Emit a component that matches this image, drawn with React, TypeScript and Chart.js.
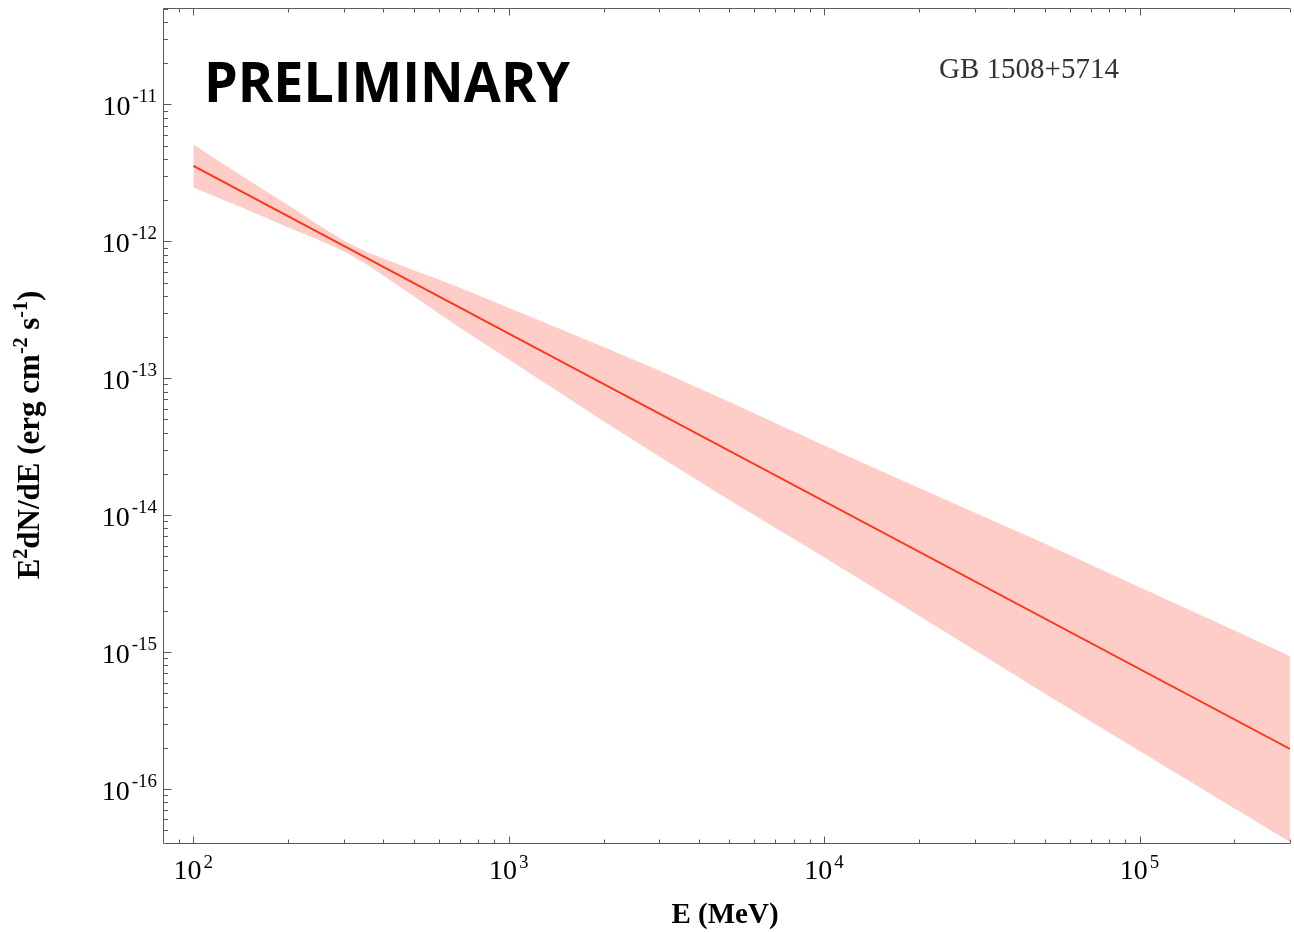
import React, { useEffect, useRef } from 'react';
import { Chart, registerables } from 'chart.js';

Chart.register(...registerables);

// ---- data ----
const bandEnergies = [100, 150, 200, 250, 300, 350, 400, 500, 600, 700, 1000, 2000, 3000, 5000, 1e4, 2e4, 5e4, 1e5, 2e5, 3e5];
const bandUpper = [5.09e-12, 2.78e-12, 1.83e-12, 1.31e-12, 1.01e-12, 8.47e-13, 7.5e-13, 6.15e-13, 5.26e-13, 4.58e-13, 3.27e-13, 1.69e-13, 1.14e-13, 6.72e-14, 3.23e-14, 1.58e-14, 6.2e-15, 2.98e-15, 1.44e-15, 9.35e-16];
const bandLower = [2.47e-12, 1.68e-12, 1.26e-12, 1.02e-12, 8.43e-13, 6.92e-13, 5.63e-13, 3.97e-13, 2.97e-13, 2.34e-13, 1.37e-13, 4.86e-14, 2.68e-14, 1.29e-14, 4.92e-15, 1.84e-15, 4.98e-16, 1.9e-16, 7.21e-17, 4.1e-17];
const fitEnergies = [100, 3e5];
const fitFlux = [3.55e-12, 1.96e-16];

const xTickValues = [1e2, 1e3, 1e4, 1e5];
const xTickExponents = ['2', '3', '4', '5'];
const yTickValues = [1e-11, 1e-12, 1e-13, 1e-14, 1e-15, 1e-16];
const yTickExponents = ['-11', '-12', '-13', '-14', '-15', '-16'];

const X_MIN = 80.15;
const X_MAX = 3.0e5;
const Y_MIN = 4.04e-17;
const Y_MAX = 5.05e-11;

const SOURCE_NAME = 'GB 1508+5714';
const WATERMARK = 'PRELIMINARY';
const X_TITLE = 'E (MeV)';
const Y_TITLE_SEGMENTS = [
  { t: 'E', sup: false },
  { t: '2', sup: true },
  { t: 'dN/dE (erg cm', sup: false },
  { t: '-2', sup: true },
  { t: ' s', sup: false },
  { t: '-1', sup: true },
  { t: ')', sup: false },
];

const SERIF = '"Liberation Serif", "Times New Roman", serif';

function drawRich(ctx: CanvasRenderingContext2D, segs: { t: string; sup: boolean }[], cx: number, baseline: number, mainFont: string, supFont: string, raise: number) {
  let total = 0;
  const widths = segs.map((s) => {
    ctx.font = s.sup ? supFont : mainFont;
    const w = ctx.measureText(s.t).width;
    total += w;
    return w;
  });
  let x = cx - total / 2;
  ctx.textAlign = 'left';
  ctx.textBaseline = 'alphabetic';
  segs.forEach((s, i) => {
    ctx.font = s.sup ? supFont : mainFont;
    ctx.fillText(s.t, x, s.sup ? baseline - raise : baseline);
    x += widths[i];
  });
}

const axesPlugin = {
  id: 'mathematicaAxes',
  afterDatasetsDraw(chart: any) {
    const { ctx, chartArea: a, scales } = chart;
    const xs = scales.x;
    const ys = scales.y;
    ctx.save();
    ctx.strokeStyle = '#5a5a5a';
    ctx.lineWidth = 1;
    const L = Math.round(a.left) + 0.5;
    const B = Math.round(a.bottom) + 0.5;
    const T = Math.round(a.top) + 0.5;
    const R = a.right;
    ctx.beginPath();
    ctx.moveTo(L, T);
    ctx.lineTo(L, B);
    ctx.lineTo(R, B);
    ctx.moveTo(L, T);
    ctx.lineTo(R, T);
    // x ticks (bottom and top, inward)
    for (let d = 1; d <= 6; d++) {
      for (let m = 1; m <= 9; m++) {
        const v = m * Math.pow(10, d);
        if (v < X_MIN * 0.999 || v > X_MAX * 1.001) continue;
        const px = Math.round(xs.getPixelForValue(v)) + 0.5;
        const len = m === 1 ? 7 : 4;
        ctx.moveTo(px, B);
        ctx.lineTo(px, B - len);
        ctx.moveTo(px, T);
        ctx.lineTo(px, T + len);
      }
    }
    // y ticks (left, inward)
    for (let d = -17; d <= -10; d++) {
      for (let m = 1; m <= 9; m++) {
        const v = m * Math.pow(10, d);
        if (v < Y_MIN || v > Y_MAX) continue;
        const py = Math.round(ys.getPixelForValue(v)) + 0.5;
        const len = m === 1 ? 8 : 4.5;
        ctx.moveTo(L, py);
        ctx.lineTo(L + len, py);
      }
    }
    ctx.stroke();

    // tick labels
    ctx.fillStyle = '#000';
    ctx.textBaseline = 'alphabetic';
    ctx.textAlign = 'left';
    const baseFont = `28px ${SERIF}`;
    const expFont = `19px ${SERIF}`;
    xTickValues.forEach((v, i) => {
      const px = xs.getPixelForValue(v);
      ctx.font = baseFont;
      const w1 = ctx.measureText('10').width;
      ctx.font = expFont;
      const w2 = ctx.measureText(xTickExponents[i]).width;
      const start = px - (w1 + 2 + w2) / 2;
      ctx.font = baseFont;
      ctx.fillText('10', start, a.bottom + 36);
      ctx.font = expFont;
      ctx.fillText(xTickExponents[i], start + w1 + 2, a.bottom + 25);
    });
    yTickValues.forEach((v, i) => {
      const py = ys.getPixelForValue(v);
      ctx.font = baseFont;
      const w1 = ctx.measureText('10').width;
      ctx.font = expFont;
      const w2 = ctx.measureText(yTickExponents[i]).width;
      const start = a.left - 6 - (w1 + 2 + w2);
      ctx.font = baseFont;
      ctx.fillText('10', start, py + 11);
      ctx.font = expFont;
      ctx.fillText(yTickExponents[i], start + w1 + 2, py - 2);
    });

    // axis titles
    ctx.font = `bold 29px ${SERIF}`;
    ctx.textAlign = 'center';
    ctx.fillText(X_TITLE, 725, 923);

    ctx.save();
    ctx.translate(39, 435);
    ctx.rotate(-Math.PI / 2);
    drawRich(ctx, Y_TITLE_SEGMENTS, 0, 0, `bold 31px ${SERIF}`, `bold 20px ${SERIF}`, 12);
    ctx.restore();

    // annotations
    ctx.textAlign = 'left';
    ctx.fillStyle = '#333';
    ctx.font = `29px ${SERIF}`;
    ctx.fillText(SOURCE_NAME, 939, 78);

    ctx.fillStyle = '#000';
    ctx.font = 'bold 56px "Open Sans", "DejaVu Sans", sans-serif';
    ctx.fillText(WATERMARK, 204, 102, 366);
    ctx.restore();
  },
};

export default function App() {
  const canvasRef = useRef<HTMLCanvasElement | null>(null);

  useEffect(() => {
    const canvas = canvasRef.current;
    if (!canvas) return;
    const chart = new Chart(canvas, {
      type: 'line',
      data: {
        datasets: [
          {
            label: 'Power-law fit',
            data: fitEnergies.map((e, i) => ({ x: e, y: fitFlux[i] })),
            borderColor: '#ff3311',
            borderWidth: 1.8,
            pointRadius: 0,
            fill: false,
          },
          {
            label: 'Upper',
            data: bandEnergies.map((e, i) => ({ x: e, y: bandUpper[i] })),
            borderColor: 'transparent',
            borderWidth: 0,
            pointRadius: 0,
            backgroundColor: 'rgb(255,205,200)',
            fill: '+1',
          },
          {
            label: 'Lower',
            data: bandEnergies.map((e, i) => ({ x: e, y: bandLower[i] })),
            borderColor: 'transparent',
            borderWidth: 0,
            pointRadius: 0,
            fill: false,
          },
        ],
      },
      options: {
        responsive: false,
        animation: false,
        devicePixelRatio: 1,
        layout: { padding: { left: 163, right: 4, top: 8, bottom: 89 } },
        elements: { line: { tension: 0 } },
        plugins: {
          legend: { display: false },
          tooltip: { enabled: false },
        },
        scales: {
          x: { type: 'logarithmic', min: X_MIN, max: X_MAX, display: false },
          y: { type: 'logarithmic', min: Y_MIN, max: Y_MAX, display: false },
        },
      },
      plugins: [axesPlugin],
    } as any);
    return () => chart.destroy();
  }, []);

  return (
    <div style={{ position: 'fixed', left: 0, top: 0, width: 1294, height: 932, background: '#fff' }}>
      <canvas ref={canvasRef} width={1294} height={932} style={{ display: 'block' }} />
    </div>
  );
}
